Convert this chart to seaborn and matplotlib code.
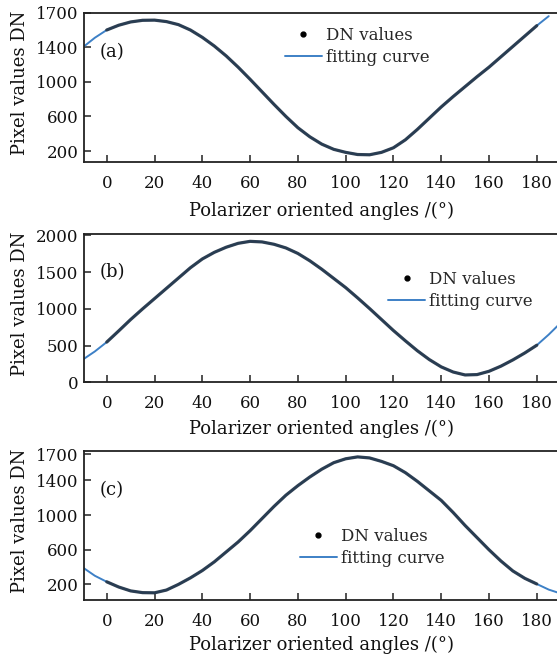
import matplotlib
matplotlib.use("Agg")
import matplotlib.pyplot as plt
from matplotlib.lines import Line2D
import numpy as np
import pandas as pd
import seaborn as sns

# ---------------- data ----------------
angles_dn = [0, 5, 10, 15, 20, 25, 30, 35, 40, 45, 50, 55, 60, 65, 70, 75, 80, 85,
             90, 95, 100, 105, 110, 115, 120, 125, 130, 135, 140, 145, 150, 155,
             160, 165, 170, 175, 180]

a_dn = [1600, 1655, 1693, 1712, 1714, 1697, 1662, 1600, 1515, 1415, 1300, 1170,
        1030, 885, 740, 600, 470, 365, 280, 220, 185, 160, 157, 185, 238, 330,
        450, 580, 710, 830, 945, 1060, 1170, 1290, 1410, 1530, 1650]
b_dn = [548, 700, 855, 1000, 1140, 1280, 1420, 1560, 1680, 1770, 1840, 1893,
        1920, 1912, 1880, 1830, 1755, 1655, 1540, 1415, 1290, 1150, 1005, 855,
        705, 565, 430, 310, 210, 140, 100, 105, 150, 220, 305, 400, 505]
c_dn = [230, 170, 125, 105, 103, 135, 200, 275, 360, 460, 575, 690, 820, 960,
        1100, 1230, 1340, 1440, 1530, 1605, 1650, 1672, 1660, 1620, 1570, 1490,
        1390, 1280, 1170, 1030, 880, 740, 600, 470, 355, 270, 205]

a_fit_angles = [-10, -5] + angles_dn + [185]
a_fit = [1400, 1510] + a_dn + [1760]
bc_fit_angles = [-10, -5] + angles_dn + [185, 190]
b_fit = [310, 420] + b_dn + [650, 810]
c_fit = [395, 300] + c_dn + [140, 95]

x_ticks = [0, 20, 40, 60, 80, 100, 120, 140, 160, 180]
a_yticks = [200, 600, 1000, 1400, 1800]
a_ylabels = ["200", "600", "1000", "1400", "1700"]
b_yticks = [0, 500, 1000, 1500, 2000]
b_ylabels = ["0", "500", "1000", "1500", "2000"]
c_yticks = [200, 600, 1000, 1400, 1700]
c_ylabels = ["200", "600", "1000", "1400", "1700"]

panel_tags = ["(a)", "(b)", "(c)"]
x_label = "Polarizer oriented angles /(°)"
y_label = "Pixel values DN"
legend_labels = ["DN values", "fitting curve"]

# ---------------- style ----------------
sns.set_theme(style="ticks")
plt.rcParams["font.family"] = ["DejaVu Serif"]
plt.rcParams["font.size"] = 12
plt.rcParams["axes.linewidth"] = 1.3
plt.rcParams["xtick.direction"] = "in"
plt.rcParams["ytick.direction"] = "in"

DARK = "#263648"
BLUE = "#3d80c6"

fig = plt.figure(figsize=(5.57, 6.61), dpi=100)
W, H = 557.0, 661.0
left_px = 84.3
px_per_deg = 2.389
xmin, xmax = -9.4, 190.0
axes_w_px = (xmax - xmin) * px_per_deg

panels = [
    dict(top=12.7, bottom=162.3, ylim=(70, 1800), yt=a_yticks, yl=a_ylabels,
         fx=a_fit_angles, fy=a_fit, dy=a_dn, leg=(0.4246, 0.773), xl=39.5),
    dict(top=234.0, bottom=382.3, ylim=(0, 2020), yt=b_yticks, yl=b_ylabels,
         fx=bc_fit_angles, fy=b_fit, dy=b_dn, leg=(0.643, 0.619), xl=37.5),
    dict(top=451.0, bottom=600.0, ylim=(20, 1740), yt=c_yticks, yl=c_ylabels,
         fx=bc_fit_angles, fy=c_fit, dy=c_dn, leg=(0.4563, 0.354), xl=36.0),
]

for i, p in enumerate(panels):
    h_px = p["bottom"] - p["top"]
    ax = fig.add_axes([left_px / W, 1 - p["bottom"] / H, axes_w_px / W, h_px / H])
    fit_df = pd.DataFrame({"angle": p["fx"], "value": p["fy"]})
    dn_df = pd.DataFrame({"angle": angles_dn, "value": p["dy"]})
    sns.lineplot(data=fit_df, x="angle", y="value", ax=ax, color=BLUE, lw=1.4,
                 zorder=2)
    sns.lineplot(data=dn_df, x="angle", y="value", ax=ax, color=DARK, lw=2.3,
                 zorder=3, alpha=0.92, solid_joinstyle="round")
    ax.set_xlim(xmin, xmax)
    ax.set_ylim(*p["ylim"])
    ax.set_xticks(x_ticks)
    ax.set_xticklabels([str(t) for t in x_ticks])
    ax.set_yticks(p["yt"])
    ax.set_yticklabels(p["yl"])
    ax.tick_params(axis="both", which="major", length=5, width=1.1, color="#222222",
                   labelsize=12, labelcolor="#111111")
    ax.tick_params(axis="x", pad=9)
    ax.tick_params(axis="y", pad=4)
    ax.spines["right"].set_visible(False)
    for s in ["left", "top", "bottom"]:
        ax.spines[s].set_color("#222222")
    ax.set_xlabel(x_label, fontsize=13, color="#111111")
    ax.set_ylabel(y_label, fontsize=13, color="#111111")
    ax.xaxis.set_label_coords((322 - left_px) / axes_w_px, -p["xl"] / h_px)
    ax.yaxis.set_label_coords(-(left_px - 29) / axes_w_px, 0.53)
    ax.text((112 - left_px) / axes_w_px, 0.74, panel_tags[i], transform=ax.transAxes,
            ha="center", va="center", fontsize=13, color="#111111")
    handles = [Line2D([], [], marker="o", ls="none", color="black", ms=3.5),
               Line2D([], [], color=BLUE, lw=1.4)]
    ax.legend(handles, legend_labels, loc="center left",
              bbox_to_anchor=(p["leg"][0] * 472.7 / axes_w_px, p["leg"][1]),
              frameon=False, fontsize=12, handlelength=2.2, handletextpad=0.25,
              labelspacing=0.3, borderpad=0, borderaxespad=0)

fig.savefig("out.png", dpi=100)
